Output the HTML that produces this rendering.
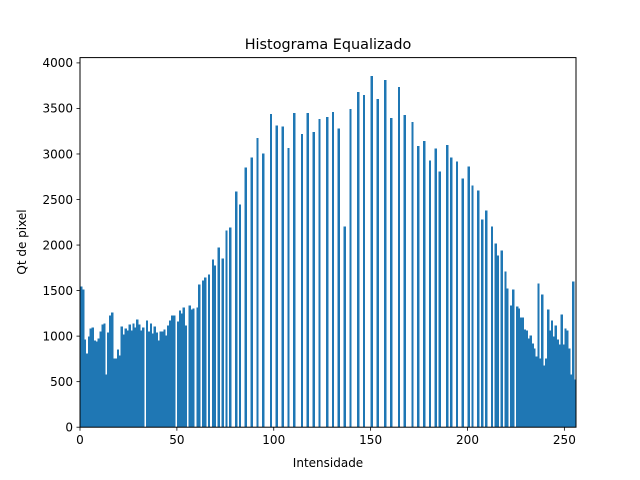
<!DOCTYPE html>
<html><head><meta charset="utf-8"><style>
html,body{margin:0;padding:0;background:#fff;}
svg{display:block;font-family:"DejaVu Sans","Liberation Sans",sans-serif;}
</style></head><body>
<svg id="chart" width="640" height="480" xmlns="http://www.w3.org/2000/svg">
<rect width="640" height="480" fill="#fff"/>
<text x="328" y="49" font-size="14.4" text-anchor="middle">Histograma Equalizado</text>
<text x="328" y="467" font-size="12" text-anchor="middle">Intensidade</text>
<text transform="translate(26,242) rotate(-90)" font-size="12" text-anchor="middle">Qt de pixel</text>
<g id="bars" shape-rendering="crispEdges"></g>
<g id="axes"></g>
</svg>
<script>
const binIndex = [0,1,2,3,4,5,6,7,8,9,10,11,12,13,14,15,16,17,18,19,20,21,22,23,24,25,26,27,28,29,30,31,32,34,35,36,37,38,39,40,41,42,43,44,45,46,47,48,50,51,52,53,54,56,57,58,60,61,63,64,66,68,69,71,73,75,77,80,82,85,88,91,94,98,101,104,107,110,114,117,120,123,127,130,133,136,139,143,146,150,153,157,160,164,167,171,174,177,180,183,185,189,191,194,197,200,202,205,207,209,212,214,215,217,219,220,222,223,225,226,227,228,229,230,231,232,233,234,235,236,237,238,239,240,241,242,243,244,245,246,247,248,249,250,251,252,253,254,255];
const binCount = [1545,1512,964,811,997,1085,1096,953,942,975,1052,1129,1140,581,1041,1227,1260,756,756,855,789,1107,1019,1085,1063,1129,1063,1140,1096,1184,1129,1063,1096,1173,1052,1140,1030,1107,1041,953,1052,1052,1074,1008,1118,1173,1227,1227,1162,1282,1249,1315,1118,1337,1293,1304,1315,1567,1611,1644,1677,1841,1775,1973,1852,2159,2192,2586,2444,2849,2959,3178,3003,3441,3310,3299,3068,3452,3222,3452,3244,3386,3408,3463,3277,2203,3496,3682,3649,3857,3605,3814,3397,3737,3430,3353,3090,3145,2926,3058,2805,3101,2959,2915,2729,2860,2652,2597,2280,2378,2203,2016,1885,1940,1710,1523,1337,1512,1326,1304,1205,1205,1074,1063,975,1008,920,866,778,1578,756,1458,679,756,1293,1063,1173,997,1118,964,910,1238,910,1085,1063,866,581,1600,526];
const xTicks = [0,50,100,150,200,250];
const yTicks = [0,500,1000,1500,2000,2500,3000,3500,4000];

const NS = "http://www.w3.org/2000/svg";
const L=80, R=576, T=57.6, B=427.2;
const xMin=0, xMax=256, yMin=0, yMax=4000*(B-T)/(B-62.9);
function xs(v){return L+(v-xMin)/(xMax-xMin)*(R-L);}
function ys(v){return B-(v-yMin)/(yMax-yMin)*(B-T);}
function mk(tag,attrs,parent){const e=document.createElementNS(NS,tag);for(const k in attrs)e.setAttribute(k,attrs[k]);parent.appendChild(e);return e;}

const bars=document.getElementById('bars');
binIndex.forEach((b,i)=>{
  const x0=xs(b), x1=xs(b+1), y=ys(binCount[i]);
  const r=mk('rect',{x:x0,y:y,width:x1-x0+0.4,height:B-y,fill:'#1f77b4'},bars);
  
  
});

const ax=document.getElementById('axes');
const frame=mk('rect',{x:L,y:T,width:R-L,height:B-T,fill:'none',stroke:'#000','stroke-width':1},ax);


xTicks.forEach(t=>{
  const x=xs(t);
  const tk=mk('line',{x1:x,x2:x,y1:B,y2:B+3.5,stroke:'#000','stroke-width':0.8},ax);
  
  
  const lb=mk('text',{x:x,y:B+17,'font-size':12,'text-anchor':'middle'},ax);
  lb.textContent=t;
  
  
});
yTicks.forEach(t=>{
  const y=ys(t);
  const tk=mk('line',{x1:L-3.5,x2:L,y1:y,y2:y,stroke:'#000','stroke-width':0.8},ax);
  
  
  const lb=mk('text',{x:L-7,y:y+4.3,'font-size':12,'text-anchor':'end'},ax);
  lb.textContent=t;
  
  
});
</script>
</body></html>
